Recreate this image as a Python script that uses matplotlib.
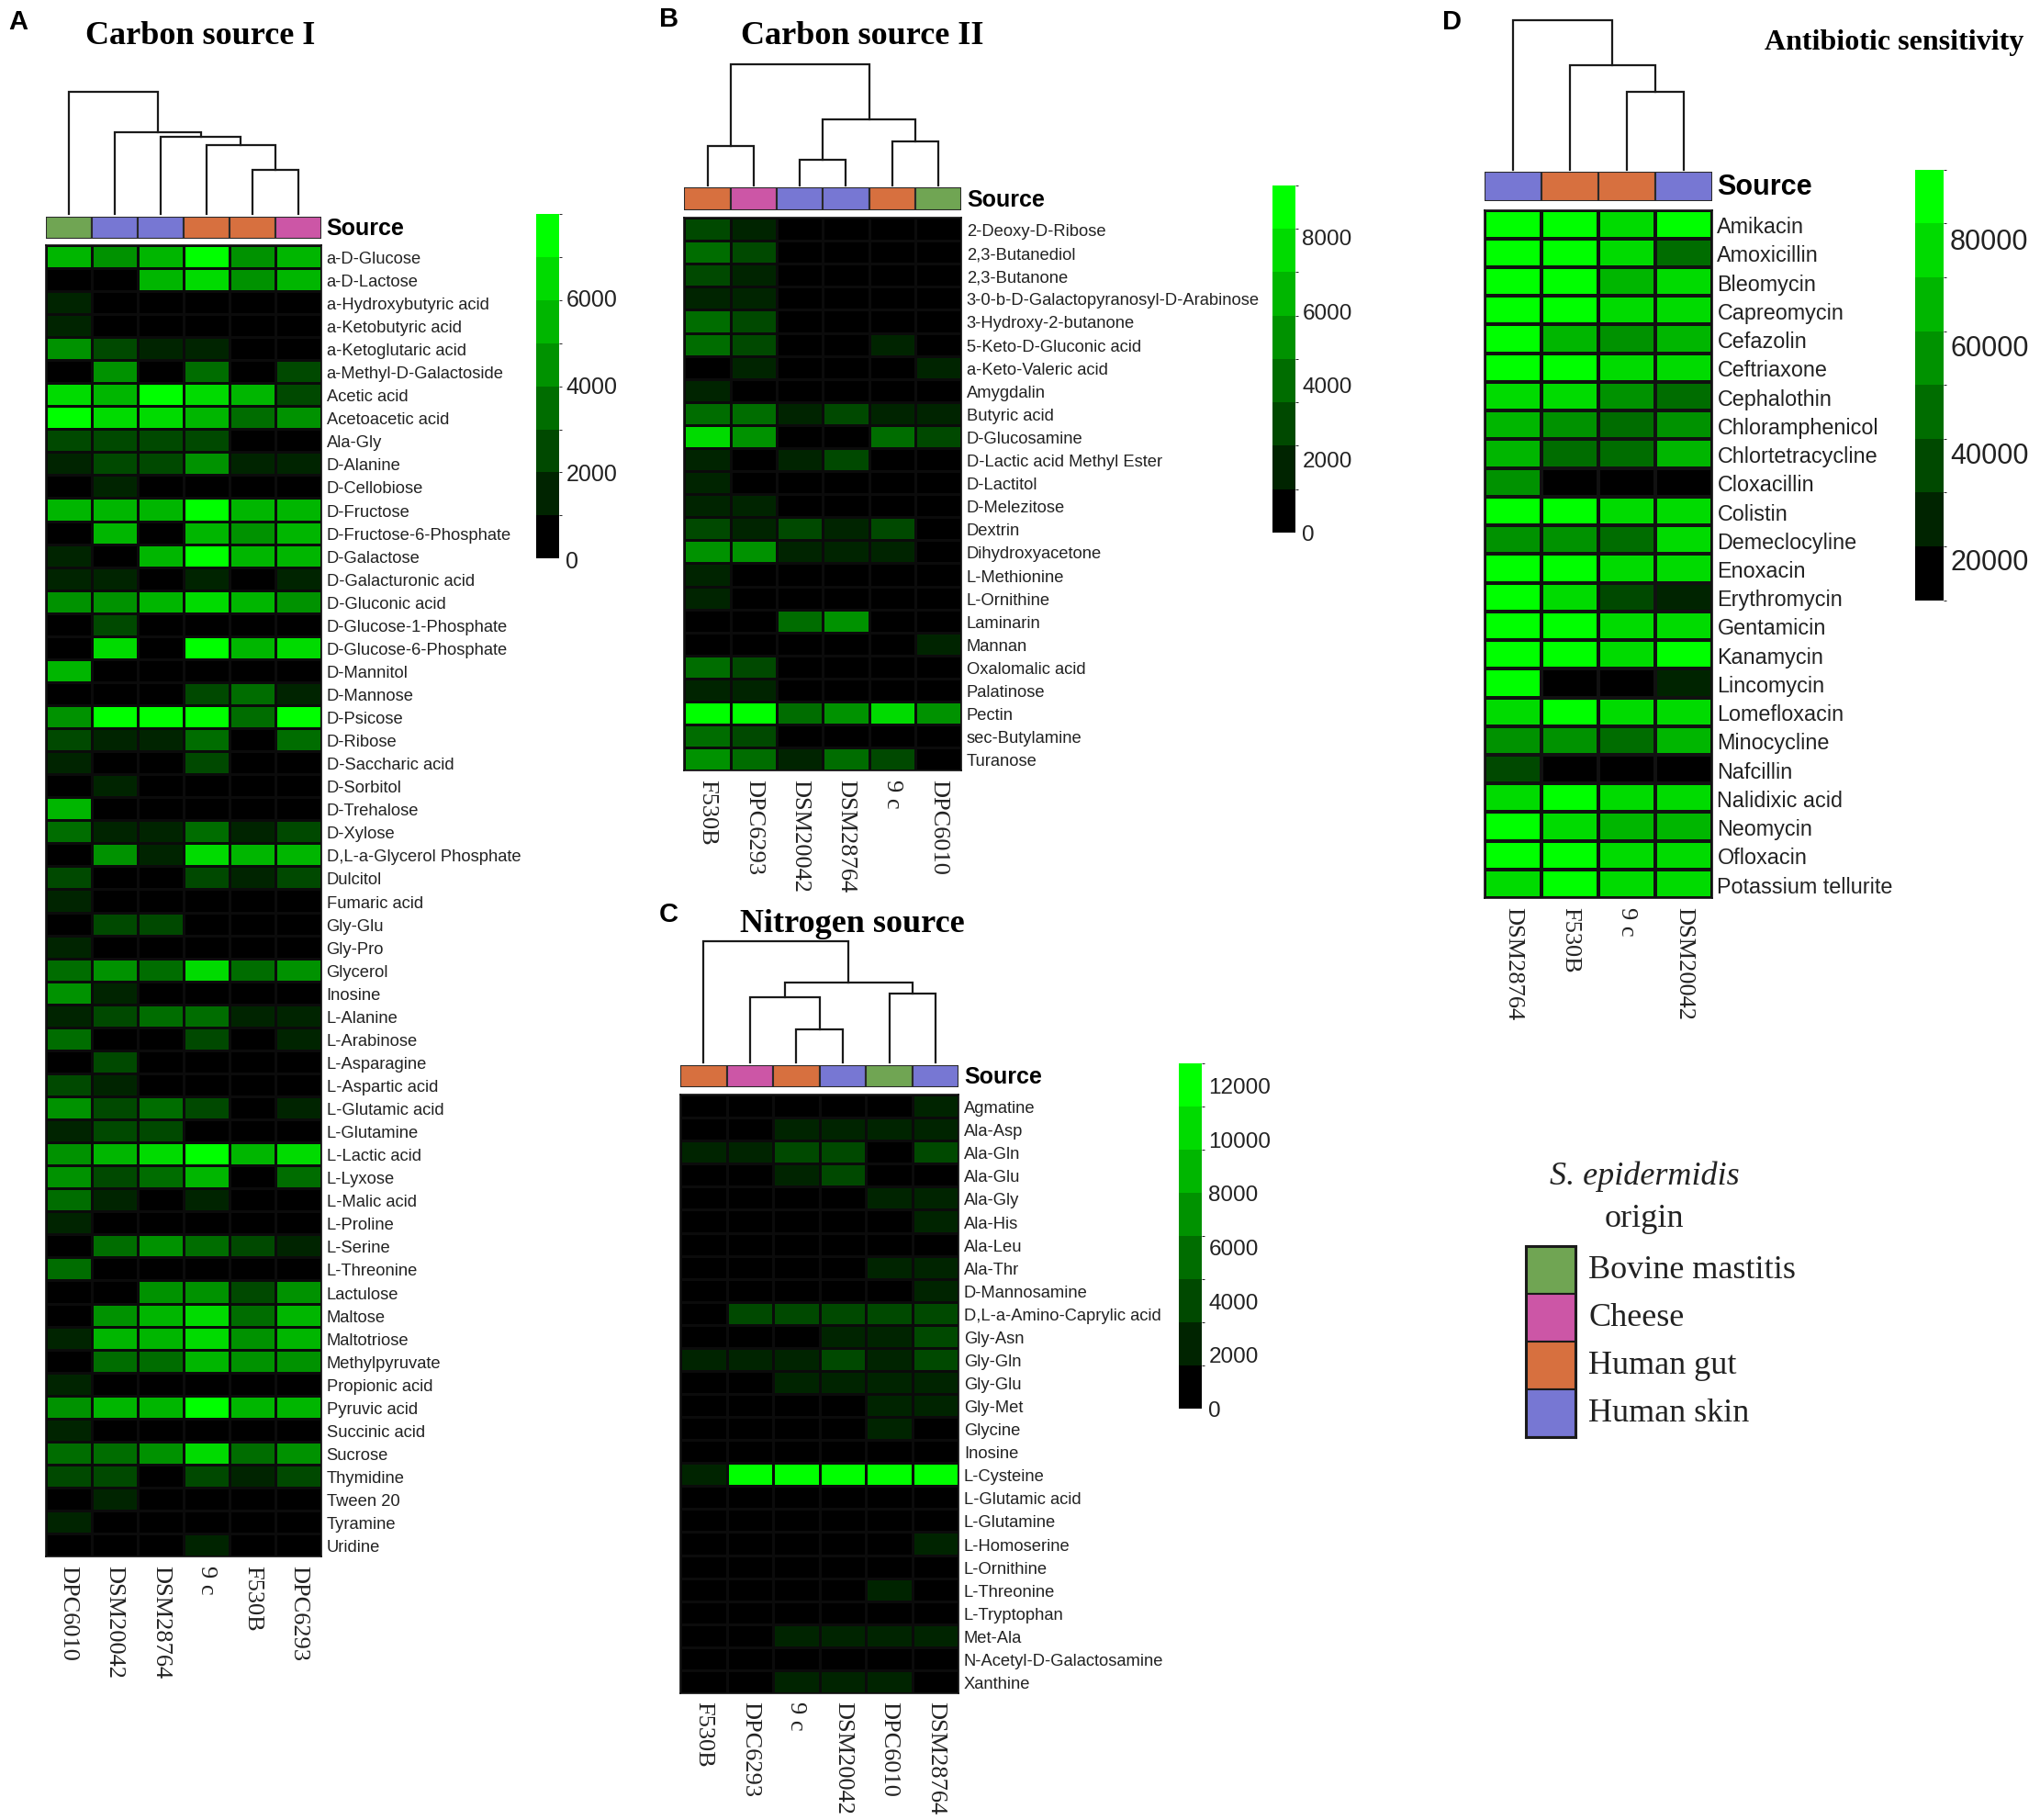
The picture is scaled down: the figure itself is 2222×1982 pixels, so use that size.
import numpy as np
import matplotlib
matplotlib.use("Agg")
import matplotlib.pyplot as plt
from matplotlib.colors import ListedColormap, BoundaryNorm, LinearSegmentedColormap
from matplotlib.cm import ScalarMappable
from matplotlib.patches import Rectangle

plt.rcParams['font.family'] = ['Liberation Sans', 'DejaVu Sans']
SERIF = ['Liberation Serif', 'DejaVu Serif']

# ---------------- data ----------------
origin_of = {
    "DPC6010": "Bovine mastitis",
    "DPC6293": "Cheese",
    "9 c": "Human gut",
    "F530B": "Human gut",
    "DSM20042": "Human skin",
    "DSM28764": "Human skin",
}
origin_names = ["Bovine mastitis", "Cheese", "Human gut", "Human skin"]
origin_colors = ["#70a553", "#cc56a6", "#d7703f", "#7777d3"]

# Carbon source I
a_cols = ["DPC6010", "DSM20042", "DSM28764", "9 c", "F530B", "DPC6293"]
a_rows = ["a-D-Glucose", "a-D-Lactose", "a-Hydroxybutyric acid", "a-Ketobutyric acid",
          "a-Ketoglutaric acid", "a-Methyl-D-Galactoside", "Acetic acid", "Acetoacetic acid",
          "Ala-Gly", "D-Alanine", "D-Cellobiose", "D-Fructose", "D-Fructose-6-Phosphate",
          "D-Galactose", "D-Galacturonic acid", "D-Gluconic acid", "D-Glucose-1-Phosphate",
          "D-Glucose-6-Phosphate", "D-Mannitol", "D-Mannose", "D-Psicose", "D-Ribose",
          "D-Saccharic acid", "D-Sorbitol", "D-Trehalose", "D-Xylose",
          "D,L-a-Glycerol Phosphate", "Dulcitol", "Fumaric acid", "Gly-Glu", "Gly-Pro",
          "Glycerol", "Inosine", "L-Alanine", "L-Arabinose", "L-Asparagine",
          "L-Aspartic acid", "L-Glutamic acid", "L-Glutamine", "L-Lactic acid", "L-Lyxose",
          "L-Malic acid", "L-Proline", "L-Serine", "L-Threonine", "Lactulose", "Maltose",
          "Maltotriose", "Methylpyruvate", "Propionic acid", "Pyruvic acid",
          "Succinic acid", "Sucrose", "Thymidine", "Tween 20", "Tyramine", "Uridine"]
a_vals = [
    [5400, 4400, 5400, 7400, 4400, 5400],
    [500, 500, 5400, 6400, 4400, 5400],
    [1500, 500, 500, 500, 500, 500],
    [1500, 500, 500, 500, 500, 500],
    [4400, 2500, 1500, 1500, 500, 500],
    [500, 4400, 500, 3500, 500, 2500],
    [6400, 5400, 7400, 6400, 5400, 2500],
    [7400, 6400, 6400, 5400, 3500, 4400],
    [2500, 2500, 2500, 2500, 500, 500],
    [1500, 2500, 2500, 4400, 1500, 1500],
    [500, 1500, 500, 500, 500, 500],
    [5400, 5400, 5400, 7400, 5400, 5400],
    [500, 5400, 500, 5400, 4400, 5400],
    [1500, 500, 5400, 7400, 5400, 5400],
    [1500, 1500, 500, 1500, 500, 1500],
    [4400, 4400, 5400, 6400, 5400, 4400],
    [500, 2500, 500, 500, 500, 500],
    [500, 6400, 500, 7400, 5400, 6400],
    [5400, 500, 500, 500, 500, 500],
    [500, 500, 500, 2500, 3500, 1500],
    [4400, 7400, 7400, 7400, 3500, 7400],
    [2500, 1500, 1500, 3500, 500, 3500],
    [1500, 500, 500, 2500, 500, 500],
    [500, 1500, 500, 500, 500, 500],
    [5400, 500, 500, 500, 500, 500],
    [3500, 1500, 1500, 3500, 1500, 2500],
    [500, 4400, 1500, 6400, 5400, 5400],
    [2500, 500, 500, 2500, 1500, 2500],
    [1500, 500, 500, 500, 500, 500],
    [500, 2500, 2500, 500, 500, 500],
    [1500, 500, 500, 500, 500, 500],
    [3500, 4400, 3500, 6400, 3500, 4400],
    [4400, 1500, 500, 500, 500, 500],
    [1500, 2500, 3500, 3500, 1500, 1500],
    [3500, 500, 500, 2500, 500, 1500],
    [500, 2500, 500, 500, 500, 500],
    [2500, 1500, 500, 500, 500, 500],
    [4400, 2500, 3500, 2500, 500, 1500],
    [1500, 2500, 2500, 500, 500, 500],
    [4400, 5400, 6400, 7400, 5400, 6400],
    [4400, 2500, 3500, 5400, 500, 3500],
    [3500, 1500, 500, 1500, 500, 500],
    [1500, 500, 500, 500, 500, 500],
    [500, 3500, 4400, 3500, 2500, 1500],
    [3500, 500, 500, 500, 500, 500],
    [500, 500, 4400, 4400, 2500, 4400],
    [500, 4400, 5400, 6400, 3500, 5400],
    [1500, 5400, 5400, 6400, 4400, 5400],
    [500, 3500, 3500, 5400, 4400, 4400],
    [1500, 500, 500, 500, 500, 500],
    [4400, 5400, 5400, 7400, 5400, 5400],
    [1500, 500, 500, 500, 500, 500],
    [3500, 3500, 4400, 6400, 3500, 4400],
    [2500, 2500, 500, 2500, 1500, 2500],
    [500, 1500, 500, 500, 500, 500],
    [1500, 500, 500, 500, 500, 500],
    [500, 500, 500, 1500, 500, 500],
]
a_merges = [(4, 5, 0.36), (3, 6, 0.56), (2, 7, 0.63), (1, 8, 0.665), (0, 9, 1.0)]
a_range = (0, 7900)
a_ticks = [0, 2000, 4000, 6000]

# Carbon source II
b_cols = ["F530B", "DPC6293", "DSM20042", "DSM28764", "9 c", "DPC6010"]
b_rows = ["2-Deoxy-D-Ribose", "2,3-Butanediol", "2,3-Butanone",
          "3-0-b-D-Galactopyranosyl-D-Arabinose", "3-Hydroxy-2-butanone",
          "5-Keto-D-Gluconic acid", "a-Keto-Valeric acid", "Amygdalin", "Butyric acid",
          "D-Glucosamine", "D-Lactic acid Methyl Ester", "D-Lactitol", "D-Melezitose",
          "Dextrin", "Dihydroxyacetone", "L-Methionine", "L-Ornithine", "Laminarin",
          "Mannan", "Oxalomalic acid", "Palatinose", "Pectin", "sec-Butylamine", "Turanose"]
b_vals = [
    [2900, 1800, 600, 600, 600, 600],
    [4100, 2900, 600, 600, 600, 600],
    [2900, 1800, 600, 600, 600, 600],
    [1800, 1800, 600, 600, 600, 600],
    [4100, 2900, 600, 600, 600, 600],
    [4100, 2900, 600, 600, 1800, 600],
    [600, 1800, 600, 600, 600, 1800],
    [1800, 600, 600, 600, 600, 600],
    [4100, 4100, 1800, 2900, 1800, 1800],
    [7600, 5300, 600, 600, 4100, 2900],
    [1800, 600, 1800, 2900, 600, 600],
    [1800, 600, 600, 600, 600, 600],
    [1800, 1800, 600, 600, 600, 600],
    [2900, 1800, 2900, 1800, 2900, 600],
    [5300, 5300, 1800, 1800, 1800, 600],
    [1800, 600, 600, 600, 600, 600],
    [1800, 600, 600, 600, 600, 600],
    [600, 600, 4100, 5300, 600, 600],
    [600, 600, 600, 600, 600, 1800],
    [4100, 2900, 600, 600, 600, 600],
    [1800, 1800, 600, 600, 600, 600],
    [8800, 8800, 4100, 5300, 7600, 5300],
    [4100, 2900, 600, 600, 600, 600],
    [5300, 4100, 1800, 4100, 2900, 600],
]
b_merges = [(2, 3, 0.21), (0, 1, 0.32), (4, 5, 0.365), (6, 8, 0.54), (7, 9, 1.0)]
b_range = (0, 9400)
b_ticks = [0, 2000, 4000, 6000, 8000]

# Nitrogen source
c_cols = ["F530B", "DPC6293", "9 c", "DSM20042", "DPC6010", "DSM28764"]
c_rows = ["Agmatine", "Ala-Asp", "Ala-Gln", "Ala-Glu", "Ala-Gly", "Ala-His", "Ala-Leu",
          "Ala-Thr", "D-Mannosamine", "D,L-a-Amino-Caprylic acid", "Gly-Asn", "Gly-Gln",
          "Gly-Glu", "Gly-Met", "Glycine", "Inosine", "L-Cysteine", "L-Glutamic acid",
          "L-Glutamine", "L-Homoserine", "L-Ornithine", "L-Threonine", "L-Tryptophan",
          "Met-Ala", "N-Acetyl-D-Galactosamine", "Xanthine"]
c_vals = [
    [800, 800, 800, 800, 800, 2400],
    [800, 800, 2400, 2400, 2400, 2400],
    [2400, 2400, 4000, 4000, 800, 4000],
    [800, 800, 2400, 4000, 800, 800],
    [800, 800, 800, 800, 2400, 2400],
    [800, 800, 800, 800, 800, 2400],
    [800, 800, 800, 800, 800, 800],
    [800, 800, 800, 800, 2400, 2400],
    [800, 800, 800, 800, 800, 2400],
    [800, 4000, 4000, 4000, 4000, 4000],
    [800, 800, 800, 2400, 2400, 4000],
    [2400, 2400, 2400, 4000, 2400, 4000],
    [800, 800, 2400, 2400, 2400, 2400],
    [800, 800, 800, 800, 2400, 2400],
    [800, 800, 800, 800, 2400, 800],
    [800, 800, 800, 800, 800, 800],
    [2400, 12000, 12000, 12000, 12000, 12000],
    [800, 800, 800, 800, 800, 800],
    [800, 800, 800, 800, 800, 800],
    [800, 800, 800, 800, 800, 2400],
    [800, 800, 800, 800, 800, 800],
    [800, 800, 800, 800, 2400, 800],
    [800, 800, 800, 800, 800, 800],
    [800, 800, 2400, 2400, 2400, 2400],
    [800, 800, 800, 800, 800, 800],
    [800, 800, 2400, 2400, 2400, 800],
]
c_merges = [(2, 3, 0.27), (1, 6, 0.54), (4, 5, 0.57), (7, 8, 0.66), (0, 9, 1.0)]
c_range = (0, 12800)
c_ticks = [0, 2000, 4000, 6000, 8000, 10000, 12000]

# Antibiotic sensitivity
d_cols = ["DSM28764", "F530B", "9 c", "DSM20042"]
d_rows = ["Amikacin", "Amoxicillin", "Bleomycin", "Capreomycin", "Cefazolin", "Ceftriaxone",
          "Cephalothin", "Chloramphenicol", "Chlortetracycline", "Cloxacillin", "Colistin",
          "Demeclocyline", "Enoxacin", "Erythromycin", "Gentamicin", "Kanamycin",
          "Lincomycin", "Lomefloxacin", "Minocycline", "Nafcillin", "Nalidixic acid",
          "Neomycin", "Ofloxacin", "Potassium tellurite"]
d_vals = [
    [88000, 88000, 77500, 88000],
    [88000, 88000, 77500, 47500],
    [88000, 88000, 67500, 77500],
    [88000, 88000, 77500, 77500],
    [88000, 67500, 57500, 67500],
    [88000, 88000, 77500, 77500],
    [77500, 77500, 57500, 47500],
    [67500, 57500, 47500, 57500],
    [67500, 47500, 47500, 67500],
    [57500, 17000, 17000, 17000],
    [88000, 88000, 77500, 77500],
    [57500, 57500, 47500, 77500],
    [88000, 88000, 77500, 77500],
    [88000, 77500, 37000, 27000],
    [88000, 88000, 77500, 77500],
    [88000, 88000, 77500, 88000],
    [88000, 17000, 17000, 27000],
    [77500, 88000, 77500, 77500],
    [57500, 57500, 47500, 67500],
    [37000, 17000, 17000, 17000],
    [77500, 88000, 77500, 77500],
    [88000, 77500, 67500, 67500],
    [88000, 88000, 77500, 77500],
    [77500, 88000, 77500, 77500],
]
d_merges = [(2, 3, 0.52), (1, 4, 0.70), (0, 5, 1.0)]
d_range = (12200, 92900)
d_ticks = [20000, 40000, 60000, 80000]

# ---------------- layout helpers ----------------
W, H = 1568.0, 1399.4
fig = plt.figure(figsize=(22.22, 19.83), dpi=100)


def rect(x0, y0, x1, y1):
    return [x0 / W, 1 - y1 / H, (x1 - x0) / W, (y1 - y0) / H]


def ftext(x, y, s, **kw):
    fig.text(x / W, 1 - y / H, s, **kw)


base = LinearSegmentedColormap.from_list("bg", ["#000000", "#00ff00"])
steps = ListedColormap(base(np.linspace(0, 1, 8)))


def draw_dendro(ax, n, merges):
    pos = {i: (i + 0.5, 0.0) for i in range(n)}
    for k, (a, b, h) in enumerate(merges):
        xa, ha = pos[a]
        xb, hb = pos[b]
        ax.plot([xa, xa, xb, xb], [ha, h, h, hb], color="#1a1a1a", lw=1.6,
                clip_on=False, solid_joinstyle="miter")
        pos[n + k] = ((xa + xb) / 2, h)
    ax.set_xlim(0, n)
    ax.set_ylim(0, 1)
    ax.axis("off")


def panel(cols, rows, vals, merges, vrange, ticks, geo, fs):
    x0, x1 = geo["x"]
    n = len(cols)
    # dendrogram
    dax = fig.add_axes(rect(x0, geo["dendro"][0], x1, geo["dendro"][1]))
    draw_dendro(dax, n, merges)
    # annotation bar
    aax = fig.add_axes(rect(x0, geo["annot"][0], x1, geo["annot"][1]))
    for i, c in enumerate(cols):
        col = origin_colors[origin_names.index(origin_of[c])]
        aax.add_patch(Rectangle((i, 0), 1, 1, facecolor=col, edgecolor="#2a2a2a", lw=1.5))
    aax.set_xlim(0, n)
    aax.set_ylim(0, 1)
    aax.axis("off")
    ftext(x1 + 4, (geo["annot"][0] + geo["annot"][1]) / 2, "Source",
          fontsize=fs["source"], fontweight="bold", va="center", ha="left")
    # heatmap
    bounds = np.linspace(vrange[0], vrange[1], 9)
    norm = BoundaryNorm(bounds, 8)
    hax = fig.add_axes(rect(x0, geo["heat"][0], x1, geo["heat"][1]))
    hax.pcolormesh(np.array(vals), cmap=steps, norm=norm,
                   edgecolors=fs["edge"], linewidth=fs["elw"])
    hax.set_xlim(0, n)
    hax.set_ylim(len(rows), 0)
    hax.yaxis.tick_right()
    hax.set_yticks(np.arange(len(rows)) + 0.5)
    hax.set_yticklabels(rows, fontsize=fs["row"], color="#222222")
    hax.set_xticks(np.arange(n) + 0.5)
    hax.set_xticklabels(cols, rotation=270, fontsize=fs["col"], family=SERIF,
                        color="#222222")
    hax.tick_params(length=0, pad=4)
    hax.tick_params(axis="x", pad=6)
    for sp in hax.spines.values():
        sp.set_linewidth(1.2)
        sp.set_color("#111111")
    # colour key
    cx0, cx1 = geo["cbar_x"]
    cy0, cy1 = geo["cbar_y"]
    cax = fig.add_axes(rect(cx0, cy0, cx1, cy1))
    cb = fig.colorbar(ScalarMappable(norm=norm, cmap=steps), cax=cax, ticks=ticks)
    cb.outline.set_visible(False)
    cax.tick_params(length=0, labelsize=fs["cbar"], pad=5, labelcolor="#222222")
    cax.set_yticklabels([str(t) for t in ticks])


fs_small = dict(source=18, row=13.2, col=19, cbar=18, edge="#0b0b0b", elw=0.9)

panel(a_cols, a_rows, a_vals, a_merges, a_range, a_ticks,
      dict(x=(35, 247), dendro=(71, 165), annot=(167, 184), heat=(189, 1197),
           cbar_x=(412, 430), cbar_y=(165, 430)), fs_small)
panel(b_cols, b_rows, b_vals, b_merges, b_range, b_ticks,
      dict(x=(526, 739), dendro=(50, 143), annot=(145, 162), heat=(168, 593),
           cbar_x=(978, 996), cbar_y=(143, 410)), dict(fs_small, cbar=17.5))
panel(c_cols, c_rows, c_vals, c_merges, c_range, c_ticks,
      dict(x=(523, 737), dendro=(724, 817), annot=(819, 836), heat=(842, 1302),
           cbar_x=(906, 924), cbar_y=(818, 1083)), dict(fs_small, cbar=17.5))
panel(d_cols, d_rows, d_vals, d_merges, d_range, d_ticks,
      dict(x=(1141, 1316), dendro=(16, 131), annot=(133, 155), heat=(162, 691),
           cbar_x=(1472, 1494), cbar_y=(131, 462)),
      dict(source=22, row=16.8, col=19, cbar=22, edge="#111111", elw=1.6))

# panel letters and titles
for x, y, s in [(14, 17, "A"), (514, 15, "B"), (514, 703, "C"), (1116, 17, "D")]:
    ftext(x, y, s, fontsize=21, fontweight="bold", ha="center", va="center")
ftext(154, 28, "Carbon source I", fontsize=26, fontweight="bold", family=SERIF,
      ha="center", va="center")
ftext(663, 28, "Carbon source II", fontsize=26, fontweight="bold", family=SERIF,
      ha="center", va="center")
ftext(655, 710, "Nitrogen source", fontsize=26, fontweight="bold", family=SERIF,
      ha="center", va="center")
ftext(1456, 33, "Antibiotic sensitivity", fontsize=23, fontweight="bold", family=SERIF,
      ha="center", va="center")

# origin legend
ftext(1264, 904, "S. epidermidis", fontsize=26, style="italic", family=SERIF,
      ha="center", va="center", color="#222222")
ftext(1264, 937, "origin", fontsize=26, family=SERIF, ha="center", va="center",
      color="#222222")
lax = fig.add_axes(rect(1173, 958, 1211, 1105))
for i, (name, col) in enumerate(zip(origin_names, origin_colors)):
    lax.add_patch(Rectangle((0, i), 1, 1, facecolor=col, edgecolor="#1a1a1a", lw=1.5))
lax.set_xlim(0, 1)
lax.set_ylim(len(origin_names), 0)
lax.set_xticks([])
lax.set_yticks([])
for sp in lax.spines.values():
    sp.set_linewidth(2.2)
    sp.set_color("#1a1a1a")
for i, name in enumerate(origin_names):
    ftext(1221, 958 + (1105 - 958) * (i + 0.5) / len(origin_names), name, fontsize=26,
          family=SERIF, ha="left", va="center", color="#222222")

fig.savefig("out.png", dpi=100, facecolor="white")
